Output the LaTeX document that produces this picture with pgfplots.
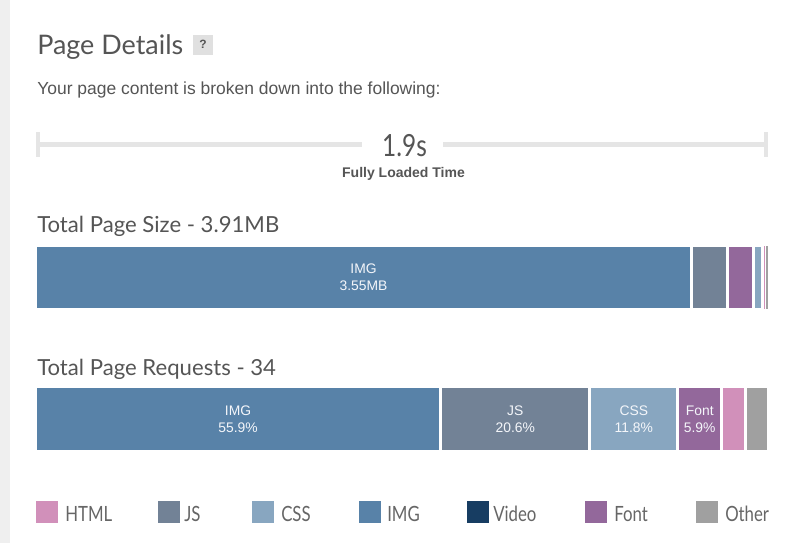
\documentclass[border=0pt]{standalone}
\usepackage{pgfplots}
\pgfplotsset{compat=1.18}
\usepackage{fontspec}
\setmainfont{Liberation Sans}
\newfontfamily\headfont{Lato}
\newfontfamily\condfont[FakeStretch=0.8]{Lato}
\definecolor{imgc}{HTML}{5882A8}
\definecolor{jsc}{HTML}{728296}
\definecolor{cssc}{HTML}{88A6C0}
\definecolor{fontc}{HTML}{93689B}
\definecolor{htmlc}{HTML}{D190BA}
\definecolor{otherc}{HTML}{A0A0A0}
\definecolor{videoc}{HTML}{173D62}
\definecolor{txtc}{HTML}{555555}
\definecolor{legc}{HTML}{666666}
\definecolor{linec}{HTML}{E5E5E5}
\definecolor{stripc}{HTML}{EFEFEF}
\definecolor{qboxc}{HTML}{E0E0E0}
\definecolor{labc}{HTML}{F4F6FA}
\tikzset{barlab/.style={labc, align=center, font=\fontsize{10.4}{12.75}\selectfont}}
\begin{document}
\begin{tikzpicture}
\begin{scope}[x=0.75pt,y=0.75pt]
\fill[white] (0,0) rectangle (792,543);
\fill[stripc] (0,0) rectangle (10,543);
\end{scope}
\pgfplotsset{barstyle/.style={xbar stacked, scale only axis, width=549.75pt,
  ymin=-0.5, ymax=0.5, xmin=0, hide axis, clip=false, enlargelimits=false,
  anchor=south west, every axis plot/.append style={draw=white, line width=2.25pt}}}
% Total page size (MB)
\begin{axis}[barstyle, at={(26.625pt,175.125pt)}, height=48pt, bar width=48pt, xmax=3.91]
\addplot[fill=imgc] coordinates {(3.499,0)};
\addplot[fill=jsc] coordinates {(0.192,0)};
\addplot[fill=fontc] coordinates {(0.139,0)};
\addplot[fill=cssc] coordinates {(0.048,0)};
\addplot[fill=htmlc, line width=0.75pt] coordinates {(0.016,0)};
\addplot[fill=otherc, line width=0.75pt] coordinates {(0.016,0)};
\coordinate (a1) at (axis cs:1.75,0);
\end{axis}
\node[barlab] at (a1) {IMG\\3.55MB};
% Total page requests
\begin{axis}[barstyle, at={(26.625pt,68.625pt)}, height=48.75pt, bar width=48.75pt, xmax=34]
\addplot[fill=imgc] coordinates {(18.79,0)};
\addplot[fill=jsc] coordinates {(6.93,0)};
\addplot[fill=cssc] coordinates {(4.06,0)};
\addplot[fill=fontc] coordinates {(2.06,0)};
\addplot[fill=htmlc] coordinates {(1.09,0)};
\addplot[fill=otherc] coordinates {(1.07,0)};
\coordinate (b1) at (axis cs:9.395,0);
\coordinate (b2) at (axis cs:22.255,0);
\coordinate (b3) at (axis cs:27.75,0);
\coordinate (b4) at (axis cs:30.81,0);
\end{axis}
\node[barlab] at (b1) {IMG\\55.9\%};
\node[barlab] at (b2) {JS\\20.6\%};
\node[barlab] at (b3) {CSS\\11.8\%};
\node[barlab] at (b4) {Font\\5.9\%};
\begin{scope}[x=0.75pt,y=0.75pt]
% title
\node[anchor=base west, inner sep=0pt, text=txtc, font=\headfont\fontsize{20.2}{24}\selectfont] at (37,488) {Page Details};
\fill[qboxc] (193,488) rectangle (213,508);
\node[text=txtc, font=\bfseries\fontsize{9}{10}\selectfont, inner sep=0pt] at (203,498.5) {?};
\node[anchor=base west, inner sep=0pt, text=txtc, font=\fontsize{13.1}{15}\selectfont] at (37,448) {Your page content is broken down into the following:};
% timeline
\fill[linec] (36,396) rectangle (362,401);
\fill[linec] (443,396) rectangle (765,401);
\fill[linec] (36,386) rectangle (40,411);
\fill[linec] (764,386) rectangle (768,411);
\node[anchor=base, inner sep=0pt, text=txtc, font=\condfont\fontsize{22.9}{26}\selectfont] at (404.5,386) {1.9s};
\node[anchor=base, inner sep=0pt, text=txtc, font=\bfseries\fontsize{10.5}{12}\selectfont] at (403.5,365) {Fully Loaded Time};
% section titles
\node[anchor=base west, inner sep=0pt, text=txtc, font=\headfont\fontsize{16.6}{19}\selectfont] at (37,310) {Total Page Size - 3.91MB};
\node[anchor=base west, inner sep=0pt, text=txtc, font=\headfont\fontsize{16.6}{19}\selectfont] at (37,168) {Total Page Requests - 34};
% legend
\foreach \xs/\xt/\c/\t in {36/65/htmlc/HTML, 158/184/jsc/JS, 252/281/cssc/CSS, 359/387/imgc/IMG, 467/493/videoc/Video, 585/614/fontc/Font, 696/725/otherc/Other}{
  \fill[\c] (\xs,20) rectangle (\xs+22,42);
  \node[anchor=base west, inner sep=0pt, text=legc, font=\condfont\fontsize{15.75}{18}\selectfont] at (\xt,22) {\t};
}
\end{scope}
\pgfresetboundingbox
\useasboundingbox (0,0) rectangle (594pt,407.25pt);
\end{tikzpicture}
\end{document}
